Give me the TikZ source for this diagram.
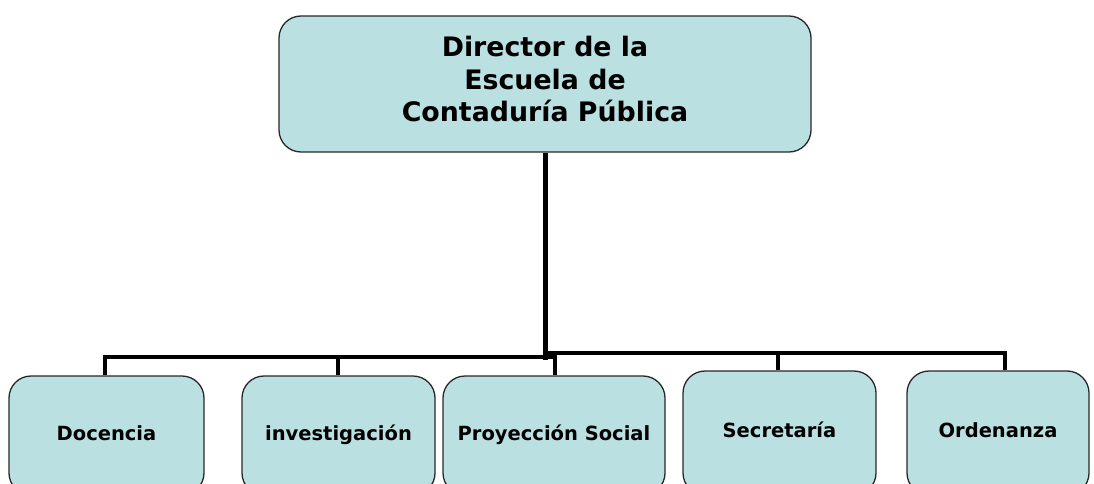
\documentclass[tikz,border=0pt]{standalone}
\usepackage{fontspec}
\setmainfont{DejaVu Sans}
\definecolor{celeste}{RGB}{186,224,226}
\definecolor{borde}{RGB}{40,40,40}
\begin{document}
\begin{tikzpicture}[x=1pt,y=-1pt,
  caja/.style={draw=borde, line width=1.3pt, fill=celeste, rounded corners=22pt, align=center},
  cajabaja/.style={caja, font=\bfseries\fontsize{19.5}{23}\selectfont, text height=14pt, text depth=5pt},
  linea/.style={line width=4pt, line join=miter}]
\def \fondo {495} % bottom of the lower boxes, below the page edge
\useasboundingbox (0,0) rectangle (1094,484);
\clip (0,0) rectangle (1094,484);

\node[caja, minimum width=532pt, minimum height=136pt, text depth=10pt,
  font=\bfseries\fontsize{26.8}{32.5}\selectfont] (dir) at (545,84)
  {Director de la\\ Escuela de\\ Contaduría Pública};

\foreach \nombre/\cx/\ancho/\arriba/\texto in {
  doc/106.5/195/376/Docencia,
  inv/338.5/193/376/investigación,
  pro/554/222/376/Proyección Social,
  sec/779.5/193/371/Secretaría,
  ord/998/182/371/Ordenanza}
{
  \node[cajabaja, minimum width=\ancho, minimum height={\fondo-\arriba}]
    (\nombre) at (\cx,{(\fondo+\arriba)/2}) {\texto};
}

% junctions of the two bars
\coordinate (jdoc) at (105,357);
\coordinate (jinv) at (338,357);
\coordinate (jpro) at (555,357);
\coordinate (jmid) at (543,353);
\coordinate (jsec) at (778,353);
\coordinate (jord) at (1005,353);

\draw[line width=5pt] (dir.south) -- ++(0,207);
\draw[linea] (doc.north -| jdoc) -- (jdoc) -- (jpro) -- (pro.north -| jpro);
\draw[linea] (jinv) -- (inv.north -| jinv);
\draw[linea] (jmid) -- (jord) -- (ord.north -| jord);
\draw[linea] (jsec) -- (sec.north -| jsec);
\end{tikzpicture}
\end{document}
